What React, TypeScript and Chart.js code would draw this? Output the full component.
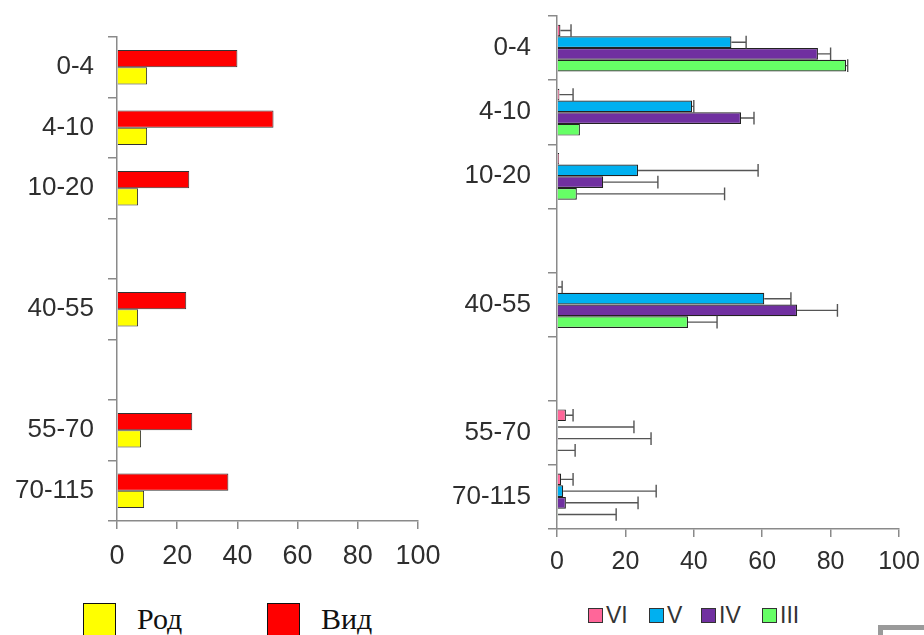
import React, { useEffect, useRef } from 'react';
import { Chart, registerables } from 'chart.js';

Chart.register(...registerables);

// ---- data ----
const categories = ['0-4', '4-10', '10-20', '', '40-55', '', '55-70', '70-115'];

// left panel
const vid = [40, 52, 24, null, 23, null, 25, 37];
const rod = [10, 10, 7, null, 7, null, 8, 9];

// right panel (value and upper error)
const seriesVI = [1, 0.7, 0.6, null, 0.3, null, 2.6, 1.2];
const errVI = [3.1, 4, 0, null, 1.2, null, 2.1, 3.5];
const seriesV = [51, 39.5, 23.7, null, 60.6, null, 0.3, 1.8];
const errV = [4.3, 0.5, 35.1, null, 7.8, null, 22.2, 27.2];
const seriesIV = [76.3, 53.8, 13.5, null, 70.2, null, 0.3, 2.6];
const errIV = [3.7, 3.8, 16, null, 11.8, null, 27.2, 21.1];
const seriesIII = [84.5, 6.7, 5.8, null, 38.3, null, 0.2, 0.3];
const errIII = [0.5, 0, 43.2, null, 8.5, null, 5.1, 17];

const xMin = 0;
const xMax = 100;
const xStep = 20;

const leftLegend = [
  { label: 'Род', color: '#FFFF00' },
  { label: 'Вид', color: '#FF0000' },
];
const rightLegend = [
  { label: 'VI', color: '#FF6699' },
  { label: 'V', color: '#00B0F0' },
  { label: 'IV', color: '#7030A0' },
  { label: 'III', color: '#66FF66' },
];

const SANS = '"Liberation Sans", Arial, sans-serif';
const SERIF = '"Liberation Serif", "Times New Roman", serif';
const AXIS_COLOR = '#8a8a8a';
const TEXT_COLOR = '#2e2e2e';

const errorBarPlugin = {
  id: 'errorBars',
  afterDatasetsDraw(chart: any) {
    const { ctx } = chart;
    const xScale = chart.scales.x;
    chart.data.datasets.forEach((ds: any, i: number) => {
      const errs = ds.errors;
      if (!errs) return;
      const meta = chart.getDatasetMeta(i);
      meta.data.forEach((bar: any, j: number) => {
        const v = ds.data[j];
        const e = errs[j];
        if (v == null || !e) return;
        const x0 = xScale.getPixelForValue(v);
        const x1 = xScale.getPixelForValue(v + e);
        const { y, height } = bar.getProps(['y', 'height'], true);
        const h = height / 2 + 0.5;
        ctx.save();
        ctx.strokeStyle = '#555555';
        ctx.lineWidth = 1.4;
        ctx.beginPath();
        ctx.moveTo(x0, y);
        ctx.lineTo(x1, y);
        ctx.moveTo(x1, y - h);
        ctx.lineTo(x1, y + h);
        ctx.stroke();
        ctx.restore();
      });
    });
  },
};

function zeroPadding(scale: any) {
  scale.paddingTop = 0;
  scale.paddingBottom = 0;
  scale.paddingLeft = 0;
  scale.paddingRight = 0;
}

function makeOptions(cfg: {
  yWidth: number;
  xHeight: number;
  padTop: number;
  padRight: number;
  yFont: number;
  yPad: number;
  xFont: number;
  xPad: number;
  catPct: number;
}) {
  return {
    indexAxis: 'y' as const,
    responsive: false,
    animation: false as const,
    layout: { padding: { left: 0, top: cfg.padTop, right: cfg.padRight, bottom: 0 } },
    plugins: { legend: { display: false }, tooltip: { enabled: false } },
    datasets: { bar: { categoryPercentage: cfg.catPct, barPercentage: 1 } },
    scales: {
      y: {
        type: 'category' as const,
        offset: true,
        grid: {
          display: true,
          drawOnChartArea: false,
          drawTicks: true,
          tickLength: 9,
          color: AXIS_COLOR,
          lineWidth: 1.5,
          offset: true,
        },
        border: { display: true, color: AXIS_COLOR, width: 1.5 },
        ticks: {
          color: TEXT_COLOR,
          font: { family: SANS, size: cfg.yFont },
          padding: cfg.yPad,
          autoSkip: false,
        },
        afterFit(scale: any) {
          scale.width = cfg.yWidth;
          zeroPadding(scale);
        },
      },
      x: {
        type: 'linear' as const,
        min: xMin,
        max: xMax,
        grid: {
          display: true,
          drawOnChartArea: false,
          drawTicks: true,
          tickLength: 8,
          color: AXIS_COLOR,
          lineWidth: 1.5,
        },
        border: { display: true, color: AXIS_COLOR, width: 1.5 },
        ticks: {
          stepSize: xStep,
          color: TEXT_COLOR,
          font: { family: SANS, size: cfg.xFont },
          padding: cfg.xPad,
        },
        afterFit(scale: any) {
          scale.height = cfg.xHeight;
          zeroPadding(scale);
        },
      },
    },
  };
}

export default function App() {
  const leftRef = useRef<HTMLCanvasElement | null>(null);
  const rightRef = useRef<HTMLCanvasElement | null>(null);

  useEffect(() => {
    if (!leftRef.current || !rightRef.current) return;
    const left = new Chart(leftRef.current, {
      type: 'bar',
      data: {
        labels: categories,
        datasets: [
          { label: 'Вид', data: vid, backgroundColor: '#FF0000', borderColor: '#333333', borderWidth: 1 },
          { label: 'Род', data: rod, backgroundColor: '#FFFF00', borderColor: '#333333', borderWidth: 1 },
        ],
      },
      options: makeOptions({
        yWidth: 117,
        xHeight: 590 - 521,
        padTop: 37,
        padRight: 460 - 418,
        yFont: 26,
        yPad: 14,
        xFont: 27,
        xPad: 11,
        catPct: 0.57,
      }) as any,
    });

    const right = new Chart(rightRef.current, {
      type: 'bar',
      data: {
        labels: categories,
        datasets: [
          { label: 'VI', data: seriesVI, errors: errVI, backgroundColor: '#FF6699', borderColor: '#222222', borderWidth: 1.2 },
          { label: 'V', data: seriesV, errors: errV, backgroundColor: '#00B0F0', borderColor: '#222222', borderWidth: 1.2 },
          { label: 'IV', data: seriesIV, errors: errIV, backgroundColor: '#7030A0', borderColor: '#222222', borderWidth: 1.2 },
          { label: 'III', data: seriesIII, errors: errIII, backgroundColor: '#66FF66', borderColor: '#222222', borderWidth: 1.2 },
        ] as any,
      },
      options: makeOptions({
        yWidth: 117,
        xHeight: 600 - 529,
        padTop: 16,
        padRight: 484 - (899 - 440),
        yFont: 26,
        yPad: 17,
        xFont: 25,
        xPad: 10,
        catPct: 0.73,
      }) as any,
      plugins: [errorBarPlugin],
    });

    return () => {
      left.destroy();
      right.destroy();
    };
  }, []);

  const rightLegendPos = [
    { box: 588, text: 606 },
    { box: 649, text: 667 },
    { box: 701, text: 719 },
    { box: 762, text: 780 },
  ];

  return (
    <div style={{ position: 'absolute', left: 0, top: 0, width: 924, height: 635, overflow: 'hidden', background: '#fff' }}>
      <canvas ref={leftRef} width={460} height={590} style={{ position: 'absolute', left: 0, top: 0, width: 460, height: 590 }} />
      <canvas ref={rightRef} width={484} height={600} style={{ position: 'absolute', left: 440, top: 0, width: 484, height: 600 }} />

      {/* left legend */}
      {leftLegend.map((item, i) => (
        <div key={item.label} style={{ position: 'absolute', left: i === 0 ? 83 : 267, top: 603, height: 40, display: 'flex', alignItems: 'flex-start' }}>
          <div style={{ width: 33, height: 34, background: item.color, border: '1.5px solid #111', boxSizing: 'border-box' }} />
          <span style={{ marginLeft: 21, fontFamily: SERIF, fontSize: 30, lineHeight: '32px', color: '#111' }}>{item.label}</span>
        </div>
      ))}

      {/* right legend */}
      {rightLegend.map((item, i) => (
        <React.Fragment key={item.label}>
          <div style={{ position: 'absolute', left: rightLegendPos[i].box, top: 608, width: 15, height: 15, background: item.color, border: '1.5px solid #333', boxSizing: 'border-box' }} />
          <span style={{ position: 'absolute', left: rightLegendPos[i].text, top: 601, fontFamily: SANS, fontSize: 23, lineHeight: '28px', color: '#333333' }}>{item.label}</span>
        </React.Fragment>
      ))}

      {/* gray corner at the bottom right */}
      <div style={{ position: 'absolute', left: 878, top: 625, width: 60, height: 20, borderTop: '5px solid #9a9a9a', borderLeft: '5px solid #9a9a9a' }} />
    </div>
  );
}
